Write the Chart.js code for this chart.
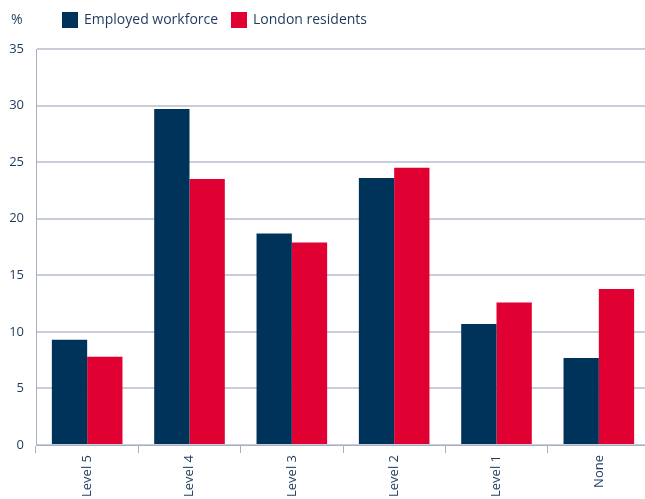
<!DOCTYPE html>
<html lang="en">
<head>
  <meta charset="UTF-8" />
  <title>Qualifications chart</title>
  <script src="https://cdn.jsdelivr.net/npm/chart.js"></script>
  <style>
    html, body {
      margin: 0;
      padding: 0;
      background: #fff;
      overflow: hidden;
    }
    .wrap {
      width: 650px;
      height: 499px;
    }
  </style>
</head>
<body>
  <div class="wrap"><canvas id="chart"></canvas></div>

  <script>
    const categories = ['Level 5', 'Level 4', 'Level 3', 'Level 2', 'Level 1', 'None'];
    const employedWorkforce = [9.3, 29.7, 18.7, 23.6, 10.7, 7.7];
    const londonResidents = [7.8, 23.5, 17.9, 24.5, 12.6, 13.8];
    const seriesNames = ['Employed workforce', 'London residents'];
    const navy = '#00335a';
    const red = '#e00031';
    const textColor = '#1d3a5c';
    const gridColor = '#c8ccdb';
    const fontFamily = "'Open Sans', 'Noto Sans', sans-serif";

    // legend + "%" unit label drawn by hand so they sit where the original does
    const topLabels = {
      id: 'topLabels',
      afterDraw(chart) {
        const ctx = chart.ctx;
        ctx.save();
        ctx.font = '14px ' + fontFamily;
        ctx.textBaseline = 'middle';
        ctx.fillStyle = textColor;
        ctx.fillText('%', 11, 20);
        const items = [
          { x: 62, color: navy, text: seriesNames[0] },
          { x: 231, color: red, text: seriesNames[1] }
        ];
        items.forEach(it => {
          ctx.fillStyle = it.color;
          ctx.fillRect(it.x, 12, 16, 16);
          ctx.fillStyle = textColor;
          ctx.fillText(it.text, it.x + 22, 20);
        });
        ctx.restore();
      }
    };

    new Chart(document.getElementById('chart'), {
      type: 'bar',
      data: {
        labels: categories,
        datasets: [
          { label: seriesNames[0], data: employedWorkforce, backgroundColor: navy },
          { label: seriesNames[1], data: londonResidents, backgroundColor: red }
        ]
      },
      options: {
        responsive: true,
        maintainAspectRatio: false,
        animation: false,
        datasets: {
          bar: { categoryPercentage: 0.69, barPercentage: 1.0 }
        },
        layout: { padding: { top: 49, left: 0, right: 0, bottom: 0 } },
        plugins: {
          legend: { display: false },
          tooltip: { enabled: false }
        },
        scales: {
          x: {
            grid: {
              offset: true,
              drawOnChartArea: false,
              color: '#a9b0c6',
              tickLength: 8
            },
            border: { color: '#a9b0c6', width: 1 },
            ticks: {
              color: textColor,
              font: { family: fontFamily, size: 13 },
              minRotation: 90,
              maxRotation: 90,
              padding: 2
            }
          },
          y: {
            min: 0,
            max: 35,
            ticks: {
              stepSize: 5,
              color: textColor,
              font: { family: fontFamily, size: 13 },
              padding: 12
            },
            grid: { color: gridColor, lineWidth: 2, drawTicks: false },
            border: { color: '#a9b0c6', width: 1 },
            afterFit(scale) { scale.width = 36; }
          }
        }
      },
      plugins: [topLabels]
    });
  </script>
</body>
</html>
